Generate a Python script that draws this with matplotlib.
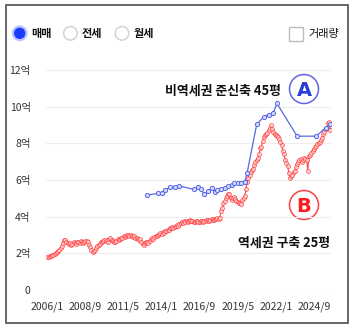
import matplotlib
matplotlib.use("Agg")
import matplotlib.pyplot as plt
from matplotlib.patches import Circle, Rectangle
import pandas as pd

plt.rcParams['font.family'] = ['Noto Sans CJK KR', 'DejaVu Sans']

# ---------------- data ----------------
tick_labels = ["2006/1", "2008/9", "2011/5", "2014/1", "2016/9", "2019/5", "2022/1", "2024/9"]
y_ticks = [0, 2, 4, 6, 8, 10, 12]
y_tick_labels = ["0", "2억", "4억", "6억", "8억", "10억", "12억"]

# B: 역세권 구축 25평 (monthly from 2006/1)
red_start = "2006-01"
red_values = [
    # 2006
    1.78, 1.80, 1.83, 1.86, 1.90, 1.93, 1.96, 2.02, 2.06, 2.15, 2.20, 2.30,
    # 2007
    2.42, 2.58, 2.72, 2.74, 2.62, 2.58, 2.50, 2.56, 2.45, 2.50, 2.62, 2.55,
    # 2008
    2.52, 2.60, 2.64, 2.58, 2.66, 2.63, 2.55, 2.62, 2.70, 2.68, 2.60, 2.48,
    # 2009
    2.32, 2.18, 2.10, 2.12, 2.20, 2.30, 2.40, 2.44, 2.52, 2.62, 2.60, 2.70,
    # 2010
    2.74, 2.66, 2.72, 2.64, 2.76, 2.84, 2.72, 2.66, 2.60, 2.62, 2.70, 2.76,
    # 2011
    2.72, 2.80, 2.86, 2.82, 2.92, 2.88, 2.96, 3.00, 3.02, 2.94, 3.00, 2.92,
    # 2012
    2.90, 2.96, 2.86, 2.84, 2.80, 2.74, 2.78, 2.62, 2.52, 2.46, 2.58, 2.62,
    # 2013
    2.60, 2.56, 2.70, 2.76, 2.84, 2.80, 2.90, 2.96, 2.92, 3.00, 3.06, 3.10,
    # 2014
    3.08, 3.16, 3.12, 3.20, 3.24, 3.28, 3.25, 3.36, 3.40, 3.46, 3.38, 3.44,
    # 2015
    3.48, 3.52, 3.50, 3.60, 3.66, 3.70, 3.68, 3.76, 3.72, 3.78, 3.70, 3.76,
    # 2016
    3.80, 3.74, 3.78, 3.70, 3.72, 3.77, 3.74, 3.70, 3.73, 3.79, 3.75, 3.72,
    # 2017
    3.76, 3.80, 3.78, 3.83, 3.76, 3.80, 3.85, 3.82, 3.84, 3.88, 3.90, 3.92,
    # 2018
    3.90, 3.94, 4.30, 4.50, 4.72, 4.86, 5.00, 5.12, 5.22, 5.25, 5.00, 4.90,
    # 2019
    5.00, 5.08, 4.95, 4.85, 4.80, 4.74, 4.72, 4.70, 4.90, 5.02, 5.12, 5.50,
    # 2020
    5.90, 6.12, 6.30, 6.45, 6.55, 6.62, 6.80, 6.96, 7.10, 7.20, 7.42, 7.72,
    # 2021
    7.82, 8.12, 8.36, 8.46, 8.50, 8.56, 8.72, 8.86, 9.00, 8.78, 8.60, 8.50,
    # 2022
    8.45, 8.40, 8.36, 8.24, 8.10, 7.90, 7.60, 7.40, 7.10, 6.95, 6.75, 6.40,
    # 2023
    6.10, 6.22, 6.30, 6.42, 6.50, 6.72, 6.90, 7.00, 7.10, 7.16, 7.00, 7.10,
    # 2024
    7.20, 7.15, 7.10, 6.50, 7.30, 7.36, 7.45, 7.60, 7.70, 7.80, 7.85, 7.95,
    # 2025
    8.00, 8.10, 8.16, 8.30, 8.50, 8.60, 8.80, 8.85, 9.10, 9.17, 8.75,
]

# A: 비역세권 준신축 45평 (irregular trades)
blue_dates = [
    "2013-01", "2013-10", "2014-01", "2014-04", "2014-08", "2014-12", "2015-04",
    "2016-04", "2016-08", "2016-10", "2017-01", "2017-04", "2017-07", "2017-10",
    "2017-12", "2018-03", "2018-06", "2018-09", "2018-12", "2019-02", "2019-05",
    "2019-08", "2019-11", "2020-01", "2020-09", "2021-03", "2021-07", "2021-11",
    "2022-02", "2023-07", "2024-11", "2025-07", "2025-11",
]
blue_values = [
    5.18, 5.27, 5.30, 5.45, 5.60, 5.63, 5.67,
    5.49, 5.60, 5.49, 5.23, 5.41, 5.54, 5.36,
    5.45, 5.49, 5.54, 5.67, 5.72, 5.85, 5.81,
    5.81, 5.90, 6.40, 9.03, 9.45, 9.57, 9.66,
    10.18, 8.39, 8.39, 8.85, 9.05,
]

label_a = "비역세권 준신축 45평"
label_b = "역세권 구축 25평"
radio_labels = ["매매", "전세", "월세"]
check_label = "거래량"


def month_index(d):
    d = pd.Timestamp(d)
    return (d.year - 2006) * 12 + d.month - 1


red_dates = pd.date_range(red_start, periods=len(red_values), freq="MS")
red_x = [month_index(d) for d in red_dates]
blue_x = [month_index(d) for d in blue_dates]
tick_x = [month_index(pd.Timestamp(t.replace("/", "-") + "-01")) for t in tick_labels]

RED = "#ff2a2a"
BLUE = "#5566e8"

# ---------------- figure ----------------
W, H = 356, 331
fig = plt.figure(figsize=(W / 100, H / 100), dpi=100)
fig.patch.set_facecolor("white")

# overlay in pixel coordinates
ov = fig.add_axes([0, 0, 1, 1], zorder=0)
ov.set_xlim(0, W)
ov.set_ylim(H, 0)
ov.axis("off")

ov.add_patch(Rectangle((6, 5), 342, 318, fill=False, edgecolor="#5a5a5a", lw=1.3))

# radio buttons
ov.add_patch(Circle((19.7, 33.3), 6.8, facecolor="#1a3cff", edgecolor="#b9c3ff", lw=1.6))
ov.add_patch(Circle((70.5, 33.3), 6.8, facecolor="white", edgecolor="#cfcfcf", lw=1.0))
ov.add_patch(Circle((122, 33.3), 6.8, facecolor="white", edgecolor="#cfcfcf", lw=1.0))
for x, t in zip([31, 82, 133.5], radio_labels):
    ov.text(x, 33.5, t, fontsize=8, fontweight="bold", color="#111111", ha="left", va="center")
ov.add_patch(Rectangle((288.5, 27), 14, 14, facecolor="white", edgecolor="#bdbdbd", lw=1.0))
ov.text(308, 34, check_label, fontsize=8, color="#111111", ha="left", va="center")

# circled letters
ov.add_patch(Circle((304, 89), 14.5, facecolor="none", edgecolor="#5a66e6", lw=1.1))
ov.text(304, 90, "A", fontsize=14, fontweight="bold", color="#2a3cd8", ha="center", va="center",
        family="DejaVu Sans")
ov.add_patch(Circle((304, 205), 14.5, facecolor="none", edgecolor="#ff4040", lw=1.1))
ov.text(304, 206, "B", fontsize=14, fontweight="bold", color="#ff1a1a", ha="center", va="center",
        family="DejaVu Sans")

ov.text(281, 91, label_a, fontsize=9.3, fontweight="bold", color="#111111", ha="right", va="center")
ov.text(330, 243, label_b, fontsize=9.3, fontweight="bold", color="#111111", ha="right", va="center")

# main chart
ax = fig.add_axes([46 / W, 41 / H, 285 / W, 220 / H], zorder=1)
ax.patch.set_alpha(0)
ax.set_xlim(-1.2, 238.5)
ax.set_ylim(0, 12)
for s in ax.spines.values():
    s.set_visible(False)
ax.set_yticks(y_ticks)
ax.set_yticklabels(y_tick_labels)
ax.set_xticks(tick_x)
ax.set_xticklabels(tick_labels)
ax.tick_params(axis="both", length=0, labelsize=7.5, colors="#333333")
ax.tick_params(axis="y", pad=11)
ax.tick_params(axis="x", pad=8)
ax.grid(axis="y", color="#eeeeee", lw=0.8)
ax.set_axisbelow(True)

ax.plot(red_x, red_values, color=RED, lw=0.8, marker="o", ms=2.8,
        mfc="#ffd0d0", mec=RED, mew=0.5, alpha=0.85, zorder=3)
ax.plot(blue_x, blue_values, color=BLUE, lw=0.9, marker="o", ms=3.0,
        mfc="#d6dbff", mec=BLUE, mew=0.7, zorder=4)

fig.savefig("out.png", dpi=100, facecolor="white")
